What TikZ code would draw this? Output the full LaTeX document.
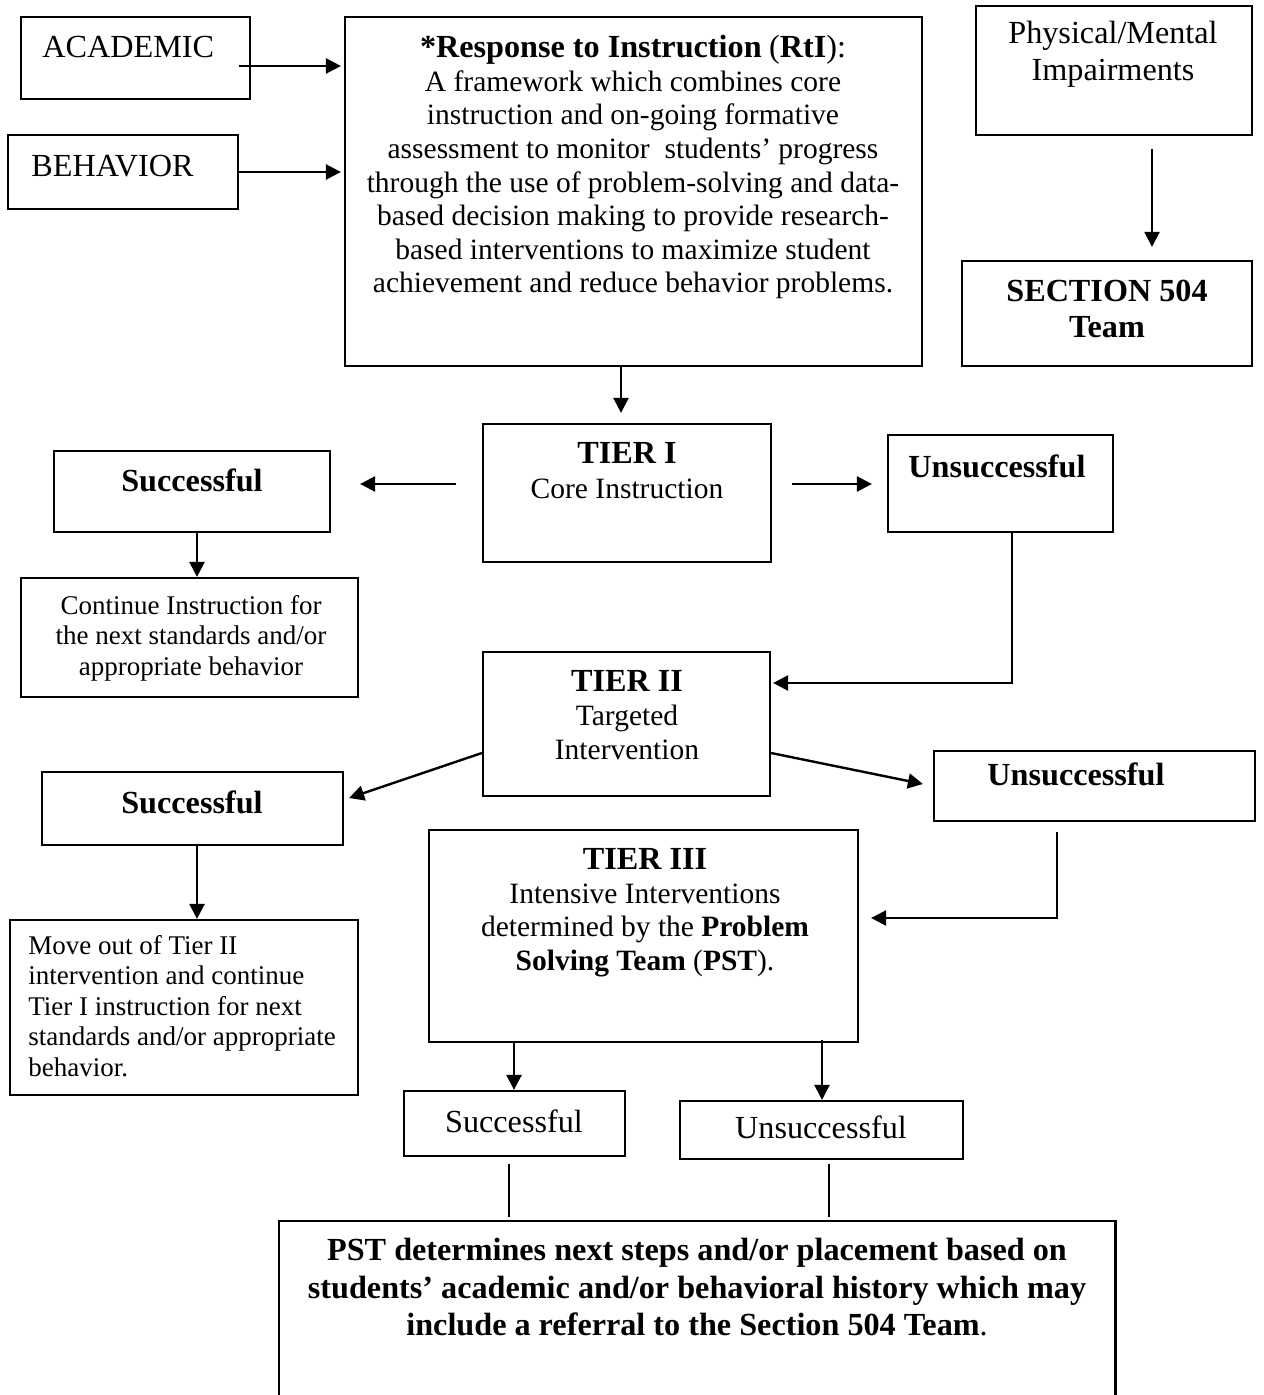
\documentclass[tikz,border=0pt]{standalone}
\usepackage{fontspec}
\setmainfont{Liberation Serif}
\usetikzlibrary{fit,calc,arrows.meta}
\newcommand\mytitle[1]{{\fontsize{16.1pt}{16.8pt}\selectfont\bfseries #1}}
\begin{document}
\begin{tikzpicture}[x=0.5pt,y=-0.5pt,
  box/.style={draw, line width=1.1pt, inner sep=0pt},
  hollow/.style={inner sep=0pt},
  arr/.style={line width=1.2pt, -{Triangle[length=7.5pt,width=7.5pt]}},
  plainline/.style={line width=0.8pt},
  bigtxt/.style={inner sep=0pt, align=center, font=\fontsize{16.1pt}{17.5pt}\selectfont},
  midtxt/.style={inner sep=0pt, align=center, font=\fontsize{14.75pt}{16.8pt}\selectfont},
  smalltxt/.style={inner sep=0pt, font=\fontsize{13.5pt}{15.25pt}\selectfont},
]
\useasboundingbox (0,0) rectangle (1263,1395);

% ---------- boxes ----------
\node[box, fit={(21,17)(250,99)}] (acad) {};
\node[box, fit={(8,135)(238,209)}] (behav) {};
\node[box, fit={(345,17)(922,366)}] (rti) {};
\node[box, fit={(976,6)(1252,135)}] (phys) {};
\node[box, fit={(962,261)(1252,366)}] (sec) {};
\node[box, fit={(483,424)(771,562)}] (t1) {};
\node[box, fit={(54,451)(330,532)}] (s1) {};
\node[box, fit={(888,435)(1113,532)}] (u1) {};
\node[box, fit={(21,578)(358,697)}] (cont) {};
\node[box, fit={(483,652)(770,796)}] (t2) {};
\node[box, fit={(42,772)(343,845)}] (s2) {};
\node[box, fit={(934,751)(1255,821)}] (u2) {};
\node[box, fit={(429,830)(858,1042)}] (t3) {};
\node[box, fit={(10,920)(358,1095)}] (mv) {};
\node[box, fit={(404,1091)(625,1156)}] (s3) {};
\node[box, fit={(680,1101)(963,1159)}] (u3) {};
\node[hollow, fit={(279,1221)(1115,1395)}] (pst) {};
\draw[line width=1.1pt] (pst.south west) -- (pst.north west) -- (pst.north east) -- (pst.south east);

% ---------- texts ----------
\node[bigtxt, anchor=base west] (acadtxt) at (42,58) {ACADEMIC};
\node[bigtxt, anchor=base west] (behavtxt) at (31,177) {BEHAVIOR};
\node[midtxt, anchor=north] (rtitxt) at (633,35) {\mytitle{*Response to Instruction} {\fontsize{16.1pt}{16.8pt}\selectfont(\textbf{RtI}):}\\
A framework which combines core\\
instruction and on-going formative\\
assessment to monitor\ \ students’ progress\\
through the use of problem-solving and data-\\
based decision making to provide research-\\
based interventions to maximize student\\
achievement and reduce behavior problems.};
\node[bigtxt, anchor=north, font=\fontsize{16.1pt}{18.5pt}\selectfont] (phystxt) at (1113,21) {Physical/Mental\\Impairments};
\node[bigtxt, anchor=north, font=\fontsize{16.1pt}{18pt}\selectfont\bfseries] (sectxt) at (1107,280) {SECTION 504\\Team};
\node[midtxt, anchor=north, font=\fontsize{14.75pt}{17.5pt}\selectfont] (t1txt) at (627,442) {\mytitle{TIER I}\\Core Instruction};
\node[bigtxt, anchor=base, font=\fontsize{16.1pt}{17.5pt}\selectfont\bfseries] (s1txt) at (192,491) {Successful};
\node[bigtxt, anchor=base, font=\fontsize{16.1pt}{17.5pt}\selectfont\bfseries] (u1txt) at (997,477) {Unsuccessful};
\node[smalltxt, align=center, anchor=north] (conttxt) at (191,595) {Continue Instruction for\\the next standards and/or\\appropriate behavior};
\node[midtxt, anchor=north, font=\fontsize{14.75pt}{17pt}\selectfont] (t2txt) at (627,670) {\mytitle{TIER II}\\Targeted\\Intervention};
\node[bigtxt, anchor=base, font=\fontsize{16.1pt}{17.5pt}\selectfont\bfseries] (s2txt) at (192,813) {Successful};
\node[bigtxt, anchor=base, font=\fontsize{16.1pt}{17.5pt}\selectfont\bfseries] (u2txt) at (1076,785) {Unsuccessful};
\node[midtxt, anchor=north] (t3txt) at (645,848) {\mytitle{TIER III}\\Intensive Interventions\\determined by the \textbf{Problem}\\\textbf{Solving Team} (\textbf{PST}).};
\node[smalltxt, align=left, anchor=north west] (mvtxt) at (28,935) {Move out of Tier II\\intervention and continue\\Tier I instruction for next\\standards and/or appropriate\\behavior.};
\node[bigtxt, anchor=base] (s3txt) at (514,1132) {Successful};
\node[bigtxt, anchor=base] (u3txt) at (821,1138) {Unsuccessful};
\node[bigtxt, anchor=north, font=\fontsize{16.1pt}{18.75pt}\selectfont] (psttxt) at (697,1238) {\textbf{PST determines next steps and/or placement based on}\\
\textbf{students’ academic and/or behavioral history which may}\\
\textbf{include a referral to the Section 504 Team}.};

% ---------- connectors ----------
\coordinate (a1s) at ($(acad.east)+(-12,8)$);
\draw[arr, shorten >=1.5pt] (a1s) -- (a1s -| rti.west);
\draw[arr, shorten >=1.5pt] (behav.east) -- (behav.east -| rti.west);

\coordinate (a3s) at ($(phys.south)+(38,13)$);
\draw[arr, shorten >=6.5pt] (a3s) -- (a3s |- sec.north);

\coordinate (a4s) at ($(rti.south)+(-12.5,0)$);
\draw[arr, shorten >=5pt] (a4s) -- (a4s |- t1.north);

\coordinate (a5s) at ($(t1.west)+(-26,-9)$);
\draw[arr, shorten >=14.5pt] (a5s) -- (a5s -| s1.east);

\coordinate (a6s) at ($(t1.east)+(20,-9)$);
\draw[arr, shorten >=7.5pt] (a6s) -- (a6s -| u1.west);

\coordinate (a7s) at ($(s1.south)+(5,0)$);
\draw[arr] (a7s) -- (a7s |- cont.north);

\coordinate (a8s) at ($(u1.south)+(11.5,0)$);
\coordinate (a8e) at ($(t2.east)+(2,-41)$);
\draw[arr] (a8s) |- (a8e);

\draw[arr] ($(t2.west)+(0,29)$) -- ($(s2.east)+(5,-10.5)$);
\draw[arr] ($(t2.east)+(0,29)$) -- ($(u2.west)+(-10,-2)$);

\coordinate (a11s) at ($(s2.south)+(4.5,0)$);
\draw[arr] (a11s) -- (a11s |- mv.north);

\coordinate (a12s) at ($(u2.south)+(-37.5,10)$);
\coordinate (a12e) at ($(t3.east)+(12,-18)$);
\draw[arr] (a12s) |- (a12e);

\coordinate (a13s) at ($(t3.south)+(-129.5,0)$);
\draw[arr] (a13s) -- (a13s |- s3.north);

\coordinate (a14s) at ($(t3.south)+(178.5,-3)$);
\draw[arr] (a14s) -- (a14s |- u3.north);

\coordinate (l1s) at ($(s3.south)+(-5.5,7)$);
\draw[plainline, shorten >=2pt] (l1s) -- (l1s |- pst.north);

\coordinate (l2s) at ($(u3.south)+(7.5,4)$);
\draw[plainline, shorten >=2pt] (l2s) -- (l2s |- pst.north);

\end{tikzpicture}
\end{document}
